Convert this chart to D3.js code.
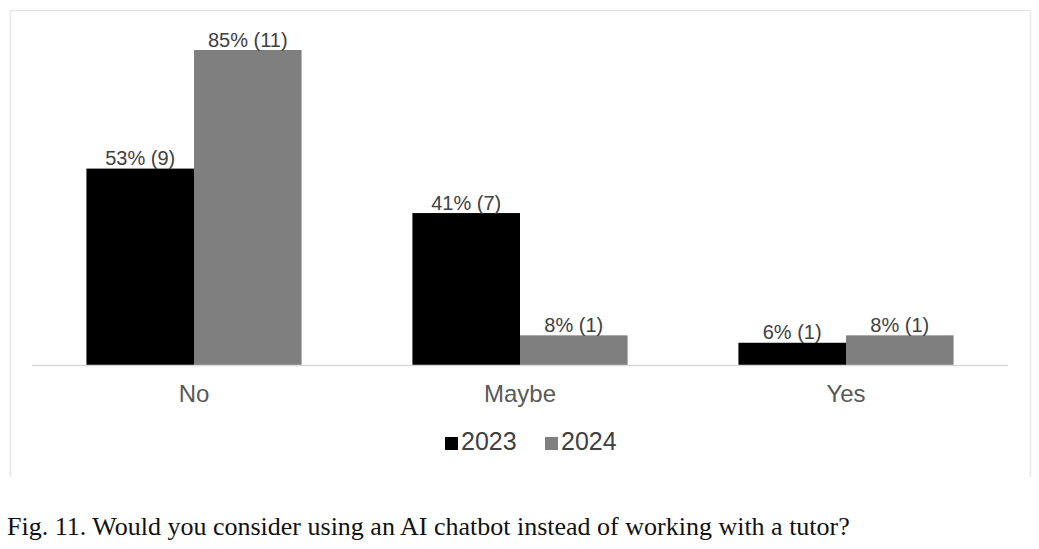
<!DOCTYPE html>
<html>
<head>
<meta charset="utf-8">
<script src="https://cdn.jsdelivr.net/npm/d3@7"></script>
<style>
  html, body { margin: 0; padding: 0; background: #fff; }
  svg { display: block; }
</style>
</head>
<body>
<svg id="chart" width="1039" height="549"></svg>
<script>
const categories = ["No", "Maybe", "Yes"];
const seriesNames = ["2023", "2024"];
const values2023 = [53, 41, 6];
const values2024 = [85, 8, 8];
const counts2023 = [9, 7, 1];
const counts2024 = [11, 1, 1];
const colors = ["#000000", "#7f7f7f"];
const caption = "Fig. 11. Would you consider using an AI chatbot instead of working with a tutor?";

const series = [
  { name: seriesNames[0], values: values2023, counts: counts2023, color: colors[0] },
  { name: seriesNames[1], values: values2024, counts: counts2024, color: colors[1] }
];

const svg = d3.select("#chart");

// frame (left, top, right edges)
svg.append("path")
  .attr("d", "M10.5,477 V10.5 H1030.5 V477")
  .attr("fill", "none")
  .attr("stroke", "#e8e8e8")
  .attr("stroke-width", 1.5);

const baseY = 365;
const x0 = d3.scaleBand().domain(categories).range([31, 1009]).paddingInner(0.34).paddingOuter(0.17);
const x1 = d3.scaleBand().domain(seriesNames).range([0, x0.bandwidth()]);
const y = d3.scaleLinear().domain([0, 85]).range([baseY, 50]);

// bars
const groups = svg.append("g").selectAll("g")
  .data(categories)
  .join("g")
  .attr("transform", d => `translate(${x0(d)},0)`);

groups.selectAll("rect")
  .data((c, i) => series.map(s => ({ s: s.name, v: s.values[i], n: s.counts[i], color: s.color })))
  .join("rect")
  .attr("x", d => x1(d.s))
  .attr("width", x1.bandwidth())
  .attr("y", d => y(d.v))
  .attr("height", d => baseY - y(d.v))
  .attr("fill", d => d.color);

groups.selectAll("text")
  .data((c, i) => series.map(s => ({ s: s.name, v: s.values[i], n: s.counts[i] })))
  .join("text")
  .attr("x", d => x1(d.s) + x1.bandwidth() / 2)
  .attr("y", d => y(d.v) - 3.5)
  .attr("text-anchor", "middle")
  .attr("font-family", "'Liberation Sans', Arial, sans-serif")
  .attr("font-size", 20)
  .attr("fill", "#404040")
  .text(d => `${d.v}% (${d.n})`);

// baseline axis
const xAxis = d3.axisBottom(x0).tickSize(0).tickPadding(16);
const ax = svg.append("g").attr("transform", `translate(0,${baseY})`).call(xAxis);
ax.select(".domain").attr("stroke", "#d9d9d9").attr("stroke-width", 1.5)
  .attr("d", "M32,0.5 H1008");
ax.selectAll(".tick text")
  .attr("font-family", "'Liberation Sans', Arial, sans-serif")
  .attr("font-size", 24)
  .attr("fill", "#595959")
  .attr("dy", "0")
  .attr("y", 37);

// legend
const legendItems = [
  { name: seriesNames[0], color: colors[0], x: 445 },
  { name: seriesNames[1], color: colors[1], x: 545 }
];
const lg = svg.append("g").selectAll("g").data(legendItems).join("g")
  .attr("transform", d => `translate(${d.x},0)`);
lg.append("rect").attr("x", 0).attr("y", 437).attr("width", 13).attr("height", 13).attr("fill", d => d.color);
lg.append("text").attr("x", 16).attr("y", 450)
  .attr("font-family", "'Liberation Sans', Arial, sans-serif")
  .attr("font-size", 25)
  .attr("fill", "#404040")
  .text(d => d.name);

// caption
svg.append("text")
  .attr("x", 7).attr("y", 535)
  .attr("font-family", "'Liberation Serif', 'Times New Roman', serif")
  .attr("font-size", 26)
  .attr("fill", "#111")
  .text(caption);
</script>
</body>
</html>
